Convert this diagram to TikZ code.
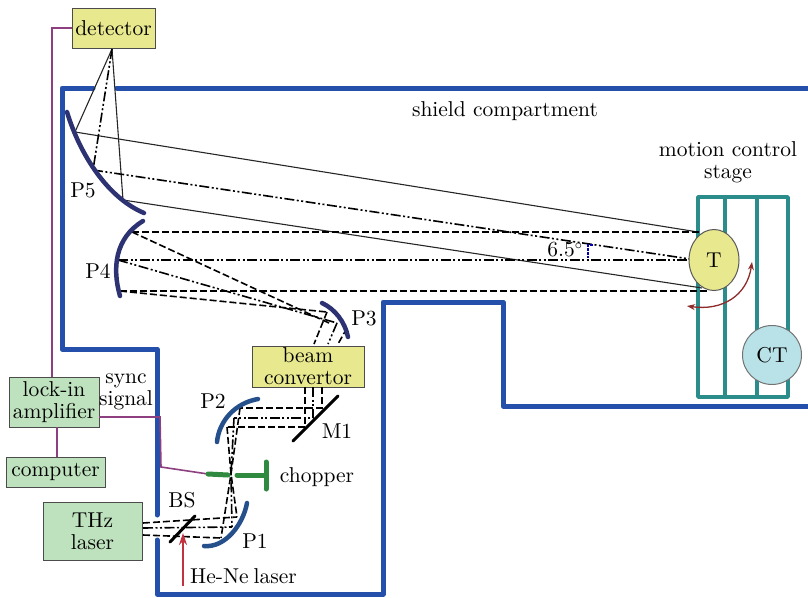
\documentclass[tikz,border=0pt]{standalone}
\usepackage{fontspec}
\setmainfont{lmroman10-regular.otf}
\usetikzlibrary{arrows.meta,shapes.geometric}
\definecolor{shieldblue}{HTML}{2450AC}
\definecolor{mirror}{HTML}{2C3272}
\definecolor{mirrorb}{HTML}{25508C}
\definecolor{sig}{HTML}{8E3F80}
\definecolor{boxy}{HTML}{E8E88E}
\definecolor{boxg}{HTML}{BFE2BE}
\definecolor{stagec}{HTML}{2B8C8C}
\definecolor{ctc}{HTML}{B9E2E8}
\definecolor{chop}{HTML}{2F8A3F}
\definecolor{redc}{HTML}{C2313F}
\definecolor{darkr}{HTML}{8E2B2B}
\tikzset{
  lbl/.style={inner sep=0pt,align=center,font=\fontsize{21.5}{22}\selectfont},
  devbox/.style={draw=black!70,line width=0.9pt,inner sep=0pt,align=center,font=\fontsize{21.5}{22}\selectfont},
  shield/.style={draw=shieldblue,line width=5pt,line join=round,line cap=round},
  sigline/.style={draw=sig,line width=1.6pt},
  mirrorline/.style={draw=mirror,line width=4.5pt,line cap=round},
  mirrorlineb/.style={draw=mirrorb,line width=4.5pt,line cap=round},
  thin ray/.style={draw=black!85,line width=1.1pt},
  dashray/.style={draw=black,line width=1.6pt,dash pattern=on 7pt off 3pt},
  dotray/.style={draw=black,line width=1.6pt,dash pattern=on 10pt off 2.5pt on 2pt off 2.5pt on 2pt off 2.5pt},
  plate/.style={draw=black,line width=3pt,line cap=round},
  stagebar/.style={draw=stagec,line width=3.5pt,line join=round},
}
\begin{document}
\begin{tikzpicture}[x=1pt,y=-1pt]
\useasboundingbox (0,0) rectangle (808,597);

% named points
\coordinate (detF) at (112,49);
\coordinate (p5a) at (75,132);
\coordinate (p5b) at (93,170);
\coordinate (p5c) at (123,200);
\coordinate (p4a) at (132,232);
\coordinate (p4b) at (118,260);
\coordinate (p4c) at (120,291);
\coordinate (ta) at (698,232);
\coordinate (tb) at (690,259);
\coordinate (tc) at (702,288);
\coordinate (td) at (700,232);
\coordinate (te) at (690,260);
\coordinate (tf) at (708,291);
\coordinate (p3a) at (327,312);
\coordinate (p3b) at (337,323);
\coordinate (p3c) at (347,328);
\coordinate (p3d) at (329,323);
\coordinate (bcA) at (314,344);
\coordinate (bcB) at (328,344);
\coordinate (bcC) at (338,344);
\coordinate (bdA) at (305,387);
\coordinate (bdB) at (313,387);
\coordinate (bdC) at (322,387);
\coordinate (m1a) at (305,427);
\coordinate (m1b) at (313,418);
\coordinate (m1c) at (322,408);
\coordinate (p2a) at (227,427);
\coordinate (p2b) at (234,418);
\coordinate (p2c) at (240,408);
\coordinate (focus) at (231,474);
\coordinate (p1a) at (237,517);
\coordinate (p1b) at (232,527);
\coordinate (p1c) at (221,538);
\coordinate (la) at (143,523);
\coordinate (lb) at (143,528);
\coordinate (lc) at (143,535);

% shield
\coordinate (s1) at (117,88); \coordinate (s2) at (808,88);
\coordinate (s3) at (93,88); \coordinate (s4) at (62,88);
\coordinate (s5) at (62,349); \coordinate (s6) at (157,349);
\coordinate (s7) at (157,515); \coordinate (s8) at (157,540);
\coordinate (s9) at (157,594); \coordinate (s10) at (383,594);
\coordinate (s11) at (383,302); \coordinate (s12) at (503,302);
\coordinate (s13) at (503,406); \coordinate (s14) at (808,406);
\draw[shield] (s1) -- (s2);
\draw[shield] (s3) -- (s4) -- (s5) -- (s6) -- (s7);
\draw[shield] (s8) -- (s9) -- (s10) -- (s11) -- (s12) -- (s13) -- (s14);

% stage
\draw[stagebar] (698,197) rectangle (788,397);
\draw[stagebar] (725,197) -- (725,397);
\draw[stagebar] (757,197) -- (757,397);

% boxes
\node[devbox,fill=boxy,minimum width=83pt,minimum height=40pt] (det) at (113.5,28) {detector};
\node[devbox,fill=boxg,minimum width=90pt,minimum height=50pt] (lock) at (54,402) {lock-in\\amplifier};
\node[devbox,fill=boxg,minimum width=99pt,minimum height=30pt] (comp) at (55.5,472) {computer};
\node[devbox,fill=boxg,minimum width=99pt,minimum height=58pt] (thz) at (92.5,531) {THz\\laser};
\node[devbox,fill=boxy,minimum width=112pt,minimum height=41pt] (bc) at (308,366.5) {beam\\convertor};

% signal lines
\coordinate (k1) at (52,28);
\coordinate (k2) at (52,377);
\coordinate (k3) at (160,417);
\coordinate (k4) at (161,467);
\coordinate (lockE) at (99,417);
\coordinate (chopW) at (208,474);
\coordinate (lockS) at (57,427);
\coordinate (compN) at (57,457);
\draw[sigline] (det.west) -- (k1) -- (k2);
\draw[sigline] (lockS) -- (compN);
\draw[sigline] (lockE) -- (k3) -- (k4) -- (chopW);

% rays
\draw[thin ray] (detF) -- (p5a) -- (ta);
\draw[thin ray] (detF) -- (p5c) -- (tc);
\draw[dotray] (detF) -- (p5b);
\draw[dotray] (p5b) -- (tb);
\draw[dashray] (p4a) -- (td);
\draw[dotray] (p4b) -- (te);
\draw[dashray] (p4c) -- (tf);
\draw[dashray] (p4a) -- (p3d);
\draw[dotray] (p4b) -- (p3b);
\draw[dashray] (p4c) -- (p3a);
\draw[dashray] (p3a) -- (bcA);
\draw[dotray] (p3b) -- (bcB);
\draw[dashray] (p3c) -- (bcC);
\draw[dashray] (bdA) -- (m1a) -- (p2a);
\draw[dotray] (bdB) -- (m1b) -- (p2b);
\draw[dashray] (bdC) -- (m1c) -- (p2c);
\draw[dashray] (p2a) -- (focus) -- (p1a);
\draw[dotray] (p2b) -- (focus) -- (p1b);
\draw[dashray] (p2c) -- (focus) -- (p1c);
\draw[dashray] (la) -- (p1a);
\draw[dotray] (lb) -- (p1b);
\draw[dashray] (lc) -- (p1c);

% mirrors
\draw[mirrorline] (67,112) .. controls (80,155) and (108,198) .. (144,213);
\draw[mirrorline] (143,221) .. controls (115,238) and (112,268) .. (120,296);
\draw[mirrorline] (322,303) .. controls (335,309) and (345,322) .. (348,337);
\draw[mirrorlineb] (258,399) .. controls (235,403) and (219,421) .. (217,442);
\draw[mirrorlineb] (247,503) .. controls (243,525) and (225,548) .. (204,546);

% plates
\draw[plate] (170,542) -- (195,516);
\draw[plate] (293,441) -- (338,396);
\coordinate (hn) at (183,586);
\coordinate (bsp) at (183,533);
\draw[redc,line width=1.4pt,-{Stealth[length=12pt,width=8pt]}] (hn) -- (bsp);

% chopper
\draw[chop,line width=5pt,line cap=round] (chopW) -- (228,475);
\draw[chop,line width=5pt,line cap=round] (237,475) -- (266,475);
\draw[chop,line width=5pt,line cap=round] (266,462) -- (266,489);

% target and CT
\node[draw=black!65,line width=1pt,fill=boxy,ellipse,minimum width=50pt,minimum height=61pt,inner sep=0pt,font=\fontsize{21.5}{22}\selectfont] (T) at (714,260) {T};
\node[draw=black!55,line width=1pt,fill=ctc,circle,minimum size=59pt,inner sep=0pt,font=\fontsize{21.5}{22}\selectfont] (CT) at (772,355) {CT};
\coordinate (arrA) at (752,262);
\coordinate (arrB) at (687,306);
\draw[darkr,line width=1.3pt,{Stealth[length=8pt,width=6pt]}-{Stealth[length=8pt,width=6pt]}] (arrA) .. controls (747,296) and (722,311) .. (arrB);

% angle
\coordinate (angA) at (588,245);
\coordinate (angB) at (588,258);
\draw[blue!70!black,line width=2.4pt,dash pattern=on 3pt off 1pt] (593,245) -- (angA) -- (angB);

% labels
\node[lbl] (shieldL) at (505,111) {shield compartment};
\node[lbl] (stageL) at (728,162.5) {motion control\\stage};
\node[lbl] (p5L) at (83,190) {P5};
\node[lbl] (p4L) at (98,271) {P4};
\node[lbl] (p3L) at (364,318) {P3};
\node[lbl] (p2L) at (213,401) {P2};
\node[lbl] (m1L) at (337,431) {M1};
\node[lbl] (bsL) at (182,500) {BS};
\node[lbl] (p1L) at (255,541) {P1};
\node[lbl] (chopL) at (317,477) {chopper};
\node[lbl,anchor=west] (henL) at (190,576) {He-Ne\hspace{5pt}laser};
\node[lbl] (syncL) at (126,392) {sync\\signal};
\node[lbl] (angL) at (565,250) {6.5$^{\circ}$};
\end{tikzpicture}
\end{document}
